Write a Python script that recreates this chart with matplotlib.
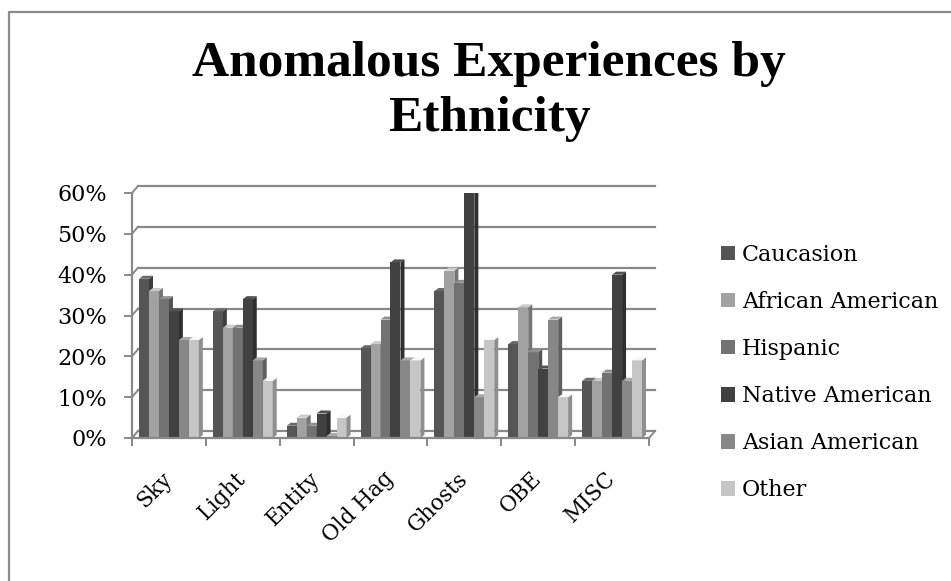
import matplotlib
matplotlib.use("Agg")
import matplotlib.pyplot as plt
from matplotlib.patches import Polygon, Rectangle
from matplotlib.lines import Line2D
from matplotlib.ticker import FixedLocator, PercentFormatter
import numpy as np

categories = ['Sky', 'Light', 'Entity', 'Old Hag', 'Ghosts', 'OBE', 'MISC']
groups = ['Caucasion', 'African American', 'Hispanic', 'Native American',
          'Asian American', 'Other']

caucasion = [0.39, 0.31, 0.03, 0.22, 0.36, 0.23, 0.14]
african_american = [0.36, 0.27, 0.05, 0.23, 0.41, 0.32, 0.14]
hispanic = [0.34, 0.27, 0.03, 0.29, 0.38, 0.21, 0.16]
native_american = [0.31, 0.34, 0.06, 0.43, 0.60, 0.17, 0.40]
asian_american = [0.24, 0.19, 0.005, 0.19, 0.10, 0.29, 0.14]
other = [0.24, 0.14, 0.05, 0.19, 0.24, 0.10, 0.19]

series = [caucasion, african_american, hispanic, native_american,
          asian_american, other]
colors = ['#555555', '#a2a2a2', '#727272', '#414141', '#878787', '#c6c6c6']

grid_col = '#898989'
body_font = 'DejaVu Serif'

W, H = 951, 581
fig = plt.figure(figsize=(W / 100, H / 100), dpi=100)

# plot area in pixels: left 132, right 649, 0% at y=438, 60% at y=193
ax = fig.add_axes([132 / W, 1 - 438 / H, 517 / W, 245 / H])
ax.set_xlim(0, len(categories))
ax.set_ylim(0, 0.6)

# pixel -> data unit conversion for the fake 3D depth
ux = len(categories) / 517
uy = 0.6 / 245
dxw, dyw = 6 * ux, 7 * uy     # back wall offset
dxb, dyb = 4 * ux, 3 * uy     # bar depth


def shade(c, f):
    rgb = np.array(matplotlib.colors.to_rgb(c)) * f
    return tuple(np.clip(rgb, 0, 1))


# back wall gridlines and floor
for v in np.arange(0, 0.61, 0.1):
    ax.plot([dxw, len(categories) + dxw], [v + dyw, v + dyw], color=grid_col,
            lw=1.6, clip_on=False, zorder=1)
    ax.plot([0, dxw], [v, v + dyw], color=grid_col, lw=1.4, clip_on=False, zorder=1)
ax.plot([len(categories), len(categories) + dxw], [0, dyw], color=grid_col,
        lw=1.4, clip_on=False, zorder=1)

# bars: front face through ax.bar, side and top faces as polygons
bw = 0.135
x = np.arange(len(categories))
for j, (vals, col) in enumerate(zip(series, colors)):
    left = x + 0.5 - 3 * bw + j * bw
    ax.bar(left, vals, width=bw, align='edge', color=col, edgecolor='none',
           zorder=3 + 2 * j, label=groups[j])
    for x0, h in zip(left, vals):
        side = Polygon([(x0 + bw, 0), (x0 + bw + dxb, dyb), (x0 + bw + dxb, h + dyb),
                        (x0 + bw, h)], closed=True, fc=shade(col, 0.72), ec='none',
                       zorder=3.5 + 2 * j)
        top = Polygon([(x0, h), (x0 + dxb, h + dyb), (x0 + bw + dxb, h + dyb),
                       (x0 + bw, h)], closed=True, fc=shade(col, 1.25), ec='none',
                      zorder=3.5 + 2 * j)
        ax.add_patch(side)
        ax.add_patch(top)

# axes styling
for s in ['top', 'right']:
    ax.spines[s].set_visible(False)
for s in ['left', 'bottom']:
    ax.spines[s].set_color(grid_col)
    ax.spines[s].set_linewidth(1.6)
    ax.spines[s].set_zorder(20)

ax.yaxis.set_major_locator(FixedLocator(np.arange(0, 0.61, 0.1)))
ax.yaxis.set_major_formatter(PercentFormatter(1.0, decimals=0))
ax.tick_params(axis='y', direction='out', length=6, width=1.4, color=grid_col,
               pad=12, labelsize=16)

ax.xaxis.set_major_locator(FixedLocator(np.arange(0, len(categories) + 1)))
ax.xaxis.set_minor_locator(FixedLocator(x + 0.5))
ax.set_xticklabels([], minor=False)
ax.set_xticklabels(categories, minor=True, rotation=45, ha='right',
                   va='center', rotation_mode='anchor')
ax.tick_params(axis='x', which='major', direction='out', length=6, width=1.4,
               color=grid_col)
ax.tick_params(axis='x', which='minor', length=0, pad=27, labelsize=15.5)

for lab in ax.get_xticklabels(minor=True) + ax.get_yticklabels():
    lab.set_fontfamily(body_font)

# legend
handles = [Rectangle((0, 0), 1, 1, fc=c, ec='none') for c in colors]
fig.legend(handles, groups, loc='upper left', bbox_to_anchor=(712 / W, 1 - 235 / H),
           frameon=False, prop={'family': body_font, 'size': 16},
           handlelength=0.62, handleheight=0.62, handletextpad=0.32,
           labelspacing=1.13, borderaxespad=0)

# title
fig.text(489 / W, 1 - 41 / H, 'Anomalous Experiences by\nEthnicity',
         ha='center', va='top', multialignment='center', fontsize=37,
         fontweight='bold', family='Liberation Serif', linespacing=1.25)

# chart frame (only left and top edges visible)
fig.add_artist(Line2D([9 / W, 9 / W, 1.0], [0.0, 1 - 12 / H, 1 - 12 / H],
                      transform=fig.transFigure, color='#8c8c8c', lw=1.6))

fig.savefig('out.png', dpi=100)
